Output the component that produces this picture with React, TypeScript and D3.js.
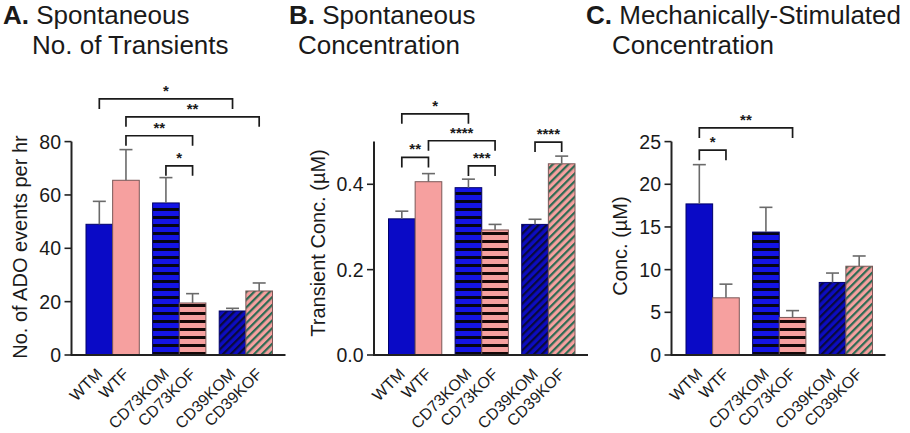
import React from "react";
import * as d3 from "d3";

const categories = ["WTM", "WTF", "CD73KOM", "CD73KOF", "CD39KOM", "CD39KOF"];
const genotypes = ["WT", "CD73KO", "CD39KO"];
const sexes = ["M", "F"];

const transientsMean = [49, 65.5, 57, 19.5, 16.5, 24];
const transientsSem = [8.6, 11.5, 9.5, 3.5, 1.0, 3.0];
const spontConcMean = [0.319, 0.406, 0.392, 0.293, 0.306, 0.448];
const spontConcSem = [0.018, 0.019, 0.02, 0.013, 0.012, 0.018];
const mechConcMean = [17.7, 6.7, 14.4, 4.4, 8.5, 10.4];
const mechConcSem = [4.6, 1.6, 2.9, 0.8, 1.1, 1.2];

const transientsTicks = [0, 20, 40, 60, 80];
const spontConcTicks = [0, 0.2, 0.4];
const mechConcTicks = [0, 5, 10, 15, 20, 25];

// [fromIndex, toIndex, label, level in data units]
const transientsComparisons: [number, number, string, number][] = [
  [0, 4, "*", 96],
  [1, 5, "**", 89.3],
  [1, 3, "**", 82.2],
  [2, 3, "*", 70.9],
];
const spontConcComparisons: [number, number, string, number][] = [
  [0, 2, "*", 0.565],
  [1, 3, "****", 0.502],
  [0, 1, "**", 0.463],
  [2, 3, "***", 0.443],
  [4, 5, "****", 0.499],
];
const mechConcComparisons: [number, number, string, number][] = [
  [0, 3, "**", 26.6],
  [0, 1, "*", 24.0],
];

const FONT = "'Liberation Sans', Arial, Helvetica, sans-serif";
const BLUE = "#0a0ac6";
const PINK = "#f6a09f";
const TEXT = "#1a1a1a";
const fills = [
  BLUE,
  PINK,
  "url(#hBlue)",
  "url(#hPink)",
  "url(#dBlue)",
  "url(#dPink)",
];
const strokes = ["#00006a", "#7a5858", "#00006a", "#7a5858", "#00006a", "#7a5858"];

type PanelProps = {
  axisX: number;
  mean: number[];
  sem: number[];
  ticks: number[];
  domainMax: number;
  comparisons: [number, number, string, number][];
  yTitle: string;
  yTitleX: number;
  yTitleY: number;
  fmt: (n: number) => string;
};

function Panel(p: PanelProps) {
  const y0 = 355;
  const yTop = 141.6;
  const y = d3.scaleLinear().domain([0, p.domainMax]).range([y0, yTop]);
  const barsStart = p.axisX + 14.5;
  const barsEnd = barsStart + 186.5;
  const xg = d3
    .scaleBand<string>()
    .domain(genotypes)
    .range([barsStart, barsEnd])
    .paddingInner(0.2)
    .paddingOuter(0);
  const xs = d3
    .scaleBand<string>()
    .domain(sexes)
    .range([0, xg.bandwidth()])
    .padding(0);
  const bw = xs.bandwidth();
  const xPos = (i: number) =>
    (xg(genotypes[Math.floor(i / 2)]) as number) + (xs(sexes[i % 2]) as number);
  const cx = (i: number) => xPos(i) + bw / 2;

  return (
    <g>
      {p.mean.map((m, i) => (
        <rect
          key={"b" + i}
          x={xPos(i)}
          y={y(m)}
          width={bw}
          height={y0 - y(m)}
          fill={fills[i]}
          stroke={strokes[i]}
          strokeWidth={1}
        />
      ))}
      {p.mean.map((m, i) => (
        <g key={"e" + i} stroke="#6a6a6a" strokeWidth={1.6}>
          <line x1={cx(i)} x2={cx(i)} y1={y(m)} y2={y(m + p.sem[i])} />
          <line x1={cx(i) - 6.5} x2={cx(i) + 6.5} y1={y(m + p.sem[i])} y2={y(m + p.sem[i])} />
        </g>
      ))}
      <line x1={p.axisX} x2={p.axisX} y1={yTop} y2={y0} stroke="#222" strokeWidth={2} />
      <line x1={p.axisX - 1} x2={barsEnd + 13} y1={y0} y2={y0} stroke="#222" strokeWidth={2} />
      {p.ticks.map((t) => (
        <g key={"t" + t}>
          <line x1={p.axisX - 7} x2={p.axisX} y1={y(t)} y2={y(t)} stroke="#222" strokeWidth={1.6} />
          <text
            x={p.axisX - 10.5}
            y={y(t)}
            dy="0.36em"
            textAnchor="end"
            fontSize={19.5}
            fill={TEXT}
            fontFamily={FONT}
          >
            {p.fmt(t)}
          </text>
        </g>
      ))}
      <text
        transform={`translate(${p.yTitleX},${p.yTitleY}) rotate(-90)`}
        textAnchor="middle"
        fontSize={20}
        fill={TEXT}
        fontFamily={FONT}
      >
        {p.yTitle}
      </text>
      {categories.map((c, i) => (
        <text
          key={"x" + i}
          transform={`translate(${cx(i) + 4},${y0 + 20}) rotate(-45)`}
          textAnchor="end"
          fontSize={16}
          fill={TEXT}
          fontFamily={FONT}
        >
          {c}
        </text>
      ))}
      {p.comparisons.map(([a, b, label, lvl], k) => {
        const yy = y(lvl);
        return (
          <g key={"c" + k}>
            <path
              d={`M${cx(a)},${yy + 10}V${yy}H${cx(b)}V${yy + 10}`}
              fill="none"
              stroke="#1a1a1a"
              strokeWidth={1.7}
            />
            <text
              x={(cx(a) + cx(b)) / 2}
              y={yy - 3}
              textAnchor="middle"
              fontSize={15}
              fontWeight="bold"
              fill={TEXT}
              fontFamily={FONT}
            >
              {label}
            </text>
          </g>
        );
      })}
    </g>
  );
}

export default function App() {
  return (
    <svg
      width={910}
      height={433}
      style={{ position: "absolute", left: 0, top: 0, background: "#fff" }}
    >
      <defs>
        <pattern id="hBlue" patternUnits="userSpaceOnUse" width={10} height={8}>
          <rect width={10} height={8} fill="#1414e6" />
          <rect width={10} height={3} fill="#050514" />
        </pattern>
        <pattern id="hPink" patternUnits="userSpaceOnUse" width={10} height={8}>
          <rect width={10} height={8} fill={PINK} />
          <rect width={10} height={3} fill="#140808" />
        </pattern>
        <pattern
          id="dBlue"
          patternUnits="userSpaceOnUse"
          width={10}
          height={5.5}
          patternTransform="rotate(-45)"
        >
          <rect width={10} height={5.5} fill="#0c0cc0" />
          <rect width={10} height={2.2} fill="#0a0a3a" />
        </pattern>
        <pattern
          id="dPink"
          patternUnits="userSpaceOnUse"
          width={10}
          height={5.5}
          patternTransform="rotate(-45)"
        >
          <rect width={10} height={5.5} fill={PINK} />
          <rect width={10} height={2.2} fill="#2c6a52" />
        </pattern>
      </defs>
      <rect width={910} height={433} fill="#fff" />

      <g fontFamily={FONT} fontSize={26} fill={TEXT}>
        <text x={3} y={24}>
          <tspan fontWeight="bold">A.</tspan> Spontaneous
        </text>
        <text x={32} y={54}>No. of Transients</text>
        <text x={289} y={24}>
          <tspan fontWeight="bold">B.</tspan> Spontaneous
        </text>
        <text x={298} y={54}>Concentration</text>
        <text x={586} y={24}>
          <tspan fontWeight="bold">C.</tspan> Mechanically-Stimulated
        </text>
        <text x={612} y={54}>Concentration</text>
      </g>

      <Panel
        axisX={71.5}
        mean={transientsMean}
        sem={transientsSem}
        ticks={transientsTicks}
        domainMax={80}
        comparisons={transientsComparisons}
        yTitle="No. of ADO events per hr"
        yTitleX={26.5}
        yTitleY={247}
        fmt={d3.format("d")}
      />
      <Panel
        axisX={374}
        mean={spontConcMean}
        sem={spontConcSem}
        ticks={spontConcTicks}
        domainMax={0.5}
        comparisons={spontConcComparisons}
        yTitle="Transient Conc.  (µM)"
        yTitleX={325}
        yTitleY={243}
        fmt={d3.format(".1f")}
      />
      <Panel
        axisX={671.5}
        mean={mechConcMean}
        sem={mechConcSem}
        ticks={mechConcTicks}
        domainMax={25}
        comparisons={mechConcComparisons}
        yTitle="Conc.  (µM)"
        yTitleX={626.5}
        yTitleY={246}
        fmt={d3.format("d")}
      />
    </svg>
  );
}
